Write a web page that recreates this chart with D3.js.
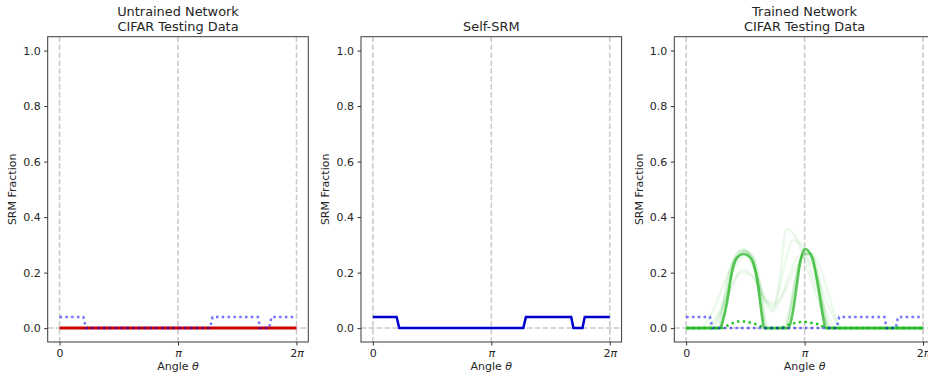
<!DOCTYPE html>
<html>
<head>
<meta charset="utf-8">
<script src="https://cdn.jsdelivr.net/npm/d3@7"></script>
<style>
  body { margin: 0; background: #fff; }
  svg { font-family: "DejaVu Sans", sans-serif; }
</style>
</head>
<body>
<div id="graph"></div>
<script>
const width = 928, height = 379;
const TAU = 2 * Math.PI;

// x ticks
const thetaTicks = [0, Math.PI, TAU];
const thetaLabels = ["0", "π", "2π"];
const srmTicks = [0, 0.2, 0.4, 0.6, 0.8, 1.0];

// self-SRM curve (angle in rad)
const selfTheta = [0, 0.63, 0.70, 3.99, 4.06, 5.26, 5.32, 5.56, 5.62, 6.283];
const selfSRM = [0.04, 0.04, 0, 0, 0.04, 0.04, 0, 0, 0.04, 0.04];

// untrained network
const untrainedTheta = [0, 6.283];
const untrainedSRM = [0, 0];

// trained network, highlighted run
const trainedMainTheta = [0, 0.90, 0.98, 1.08, 1.21, 1.34, 1.52, 1.66, 1.78, 1.91, 2.00, 2.07, 2.72, 2.82, 2.93, 3.02, 3.15, 3.33, 3.50, 3.63, 3.70, 6.283];
const trainedMainSRM = [0, 0, 0.03, 0.09, 0.20, 0.252, 0.267, 0.26, 0.235, 0.15, 0.055, 0, 0, 0.05, 0.15, 0.234, 0.285, 0.258, 0.15, 0.042, 0, 0];

// trained network, other runs (faint)
const trainedRunTheta = [
  [0, 0.86, 0.95, 1.10, 1.25, 1.50, 1.75, 1.90, 2.00, 2.10, 2.65, 2.80, 2.95, 3.15, 3.35, 3.50, 3.65, 3.75, 6.283],
  [0, 0.92, 1.00, 1.15, 1.30, 1.55, 1.80, 1.95, 2.05, 2.15, 2.60, 2.75, 2.90, 3.10, 3.30, 3.50, 3.65, 3.80, 6.283],
  [0, 0.35, 0.70, 1.00, 1.30, 1.55, 1.80, 2.05, 2.30, 2.45, 2.66, 2.90, 3.15, 3.45, 3.70, 3.90, 6.283],
  [0, 0.55, 0.90, 1.20, 1.50, 1.80, 2.10, 2.35, 2.60, 2.84, 3.10, 3.40, 3.70, 4.00, 6.283],
  [0, 0.70, 1.00, 1.30, 1.55, 1.85, 2.10, 2.30, 2.60, 2.90, 3.30, 3.60, 3.85, 4.07, 6.283],
  [0, 0.45, 0.80, 1.15, 1.45, 1.75, 2.00, 2.25, 2.50, 2.75, 3.00, 3.30, 3.60, 3.90, 4.25, 6.283]
];
const trainedRunSRM = [
  [0, 0, 0.06, 0.17, 0.245, 0.282, 0.255, 0.17, 0.08, 0, 0, 0.08, 0.20, 0.272, 0.25, 0.16, 0.05, 0, 0],
  [0, 0, 0.05, 0.16, 0.24, 0.276, 0.25, 0.16, 0.07, 0, 0, 0.07, 0.18, 0.262, 0.27, 0.19, 0.08, 0, 0],
  [0, 0, 0.06, 0.16, 0.25, 0.28, 0.22, 0.12, 0.07, 0.15, 0.356, 0.33, 0.24, 0.12, 0.03, 0, 0],
  [0, 0, 0.05, 0.15, 0.21, 0.18, 0.10, 0.09, 0.22, 0.318, 0.29, 0.17, 0.06, 0, 0],
  [0, 0, 0.10, 0.22, 0.26, 0.20, 0.10, 0.08, 0.13, 0.22, 0.27, 0.20, 0.09, 0, 0],
  [0, 0, 0.04, 0.13, 0.20, 0.19, 0.12, 0.06, 0.10, 0.20, 0.26, 0.24, 0.14, 0.04, 0, 0]
];
const trainedRunAlpha = [0.16, 0.16, 0.09, 0.08, 0.08, 0.07];

// trained network, mean (dotted)
const meanTheta = [0, 0.95, 1.08, 1.24, 1.38, 1.53, 1.69, 1.85, 2.00, 2.12, 2.50, 2.62, 2.75, 2.88, 3.03, 3.19, 3.35, 3.50, 3.63, 3.75, 6.283];
const meanSRM = [0, 0, 0.008, 0.018, 0.024, 0.024, 0.02, 0.014, 0.006, 0, 0, 0.006, 0.014, 0.018, 0.022, 0.022, 0.018, 0.014, 0.006, 0, 0];

const panelLeft = [47.7, 361, 674.3];
const panelW = 260.6, panelTop = 36.7, panelH = 305.3;
const fontSize = "11px";

const svg = d3.select("#graph").append("svg")
  .attr("width", width)
  .attr("height", height);

const toPts = (xs, ys) => xs.map((t, i) => [t, ys[i]]);

function drawPanel(idx, title) {
  const x0 = panelLeft[idx];
  const g = svg.append("g").attr("transform", "translate(" + x0 + "," + panelTop + ")");

  const xScale = d3.scaleLinear().domain([-0.1 * Math.PI, 2.1 * Math.PI]).range([0, panelW]);
  const yScale = d3.scaleLinear().domain([-0.05, 1.05]).range([panelH, 0]);

  g.append("clipPath").attr("id", "clip" + idx)
    .append("rect").attr("width", panelW).attr("height", panelH);

  // dashed reference lines
  g.selectAll(".vgrid").data(thetaTicks).enter().append("line")
    .attr("x1", d => xScale(d)).attr("x2", d => xScale(d))
    .attr("y1", 0).attr("y2", panelH)
    .attr("stroke", "#c8c8c8").attr("stroke-width", 1.5)
    .attr("stroke-dasharray", "5.5,2.4");
  g.append("line")
    .attr("x1", 0).attr("x2", panelW)
    .attr("y1", yScale(0)).attr("y2", yScale(0))
    .attr("stroke", "#c8c8c8").attr("stroke-width", 1.5)
    .attr("stroke-dasharray", "5.5,2.4");

  const line = d3.line()
    .x(d => xScale(d[0]))
    .y(d => yScale(d[1]))
    .curve(d3.curveMonotoneX);
  const stepLine = d3.line()
    .x(d => xScale(d[0]))
    .y(d => yScale(d[1]));

  const plot = g.append("g").attr("clip-path", "url(#clip" + idx + ")");

  // axes
  const xAxis = d3.axisBottom(xScale)
    .tickValues(thetaTicks)
    .tickSize(3.5).tickPadding(3.5)
    .tickFormat((d, i) => thetaLabels[i]);
  const yAxis = d3.axisLeft(yScale)
    .tickValues(srmTicks)
    .tickSize(3.5).tickPadding(3.5)
    .tickFormat(d3.format(".1f"));

  const gx = g.append("g").attr("transform", "translate(0," + panelH + ")").call(xAxis);
  const gy = g.append("g").call(yAxis);
  [gx, gy].forEach(a => {
    a.select(".domain").remove();
    a.selectAll("line").attr("stroke", "#333");
    a.selectAll("text").attr("fill", "#262626").style("font-size", fontSize)
      .style("font-family", "'DejaVu Sans', sans-serif");
  });
  // italic pi
  gx.selectAll("text").each(function (d, i) {
    const lab = thetaLabels[i];
    const t = d3.select(this).text(null);
    if (lab.indexOf("π") >= 0) {
      const pre = lab.replace("π", "");
      if (pre) t.append("tspan").text(pre);
      t.append("tspan").style("font-style", "italic").text("π");
    } else {
      t.text(lab);
    }
  });

  // frame
  g.append("rect")
    .attr("width", panelW).attr("height", panelH)
    .attr("fill", "none").attr("stroke", "#3a3a3a").attr("stroke-width", 1);

  // titles
  const titleG = g.append("text")
    .attr("x", panelW / 2)
    .attr("text-anchor", "middle")
    .style("font-size", "12.9px")
    .attr("fill", "#262626");
  title.forEach((tl, i) => {
    titleG.append("tspan")
      .attr("x", panelW / 2)
      .attr("y", (title.length === 1 ? 31 : 16 + i * 15) - panelTop)
      .text(tl);
  });

  g.append("text")
    .attr("transform", "translate(-35.5," + panelH / 2 + ") rotate(-90)")
    .attr("text-anchor", "middle")
    .attr("dy", "0.35em")
    .style("font-size", fontSize)
    .attr("fill", "#262626")
    .text("SRM Fraction");

  const xl = g.append("text")
    .attr("x", panelW / 2)
    .attr("y", 370 - panelTop)
    .attr("text-anchor", "middle")
    .style("font-size", fontSize)
    .attr("fill", "#262626");
  xl.append("tspan").text("Angle ");
  xl.append("tspan").style("font-style", "italic").text("θ");

  return { plot, line, stepLine };
}

// panel 1
const p1 = drawPanel(0, ["Untrained Network", "CIFAR Testing Data"]);
p1.plot.append("path")
  .attr("d", p1.stepLine(toPts(untrainedTheta, untrainedSRM)))
  .attr("fill", "none").attr("stroke", "#cc0000").attr("stroke-width", 3);
p1.plot.append("path")
  .attr("d", p1.stepLine(toPts(selfTheta, selfSRM)))
  .attr("fill", "none").attr("stroke", "#0000ff").attr("stroke-opacity", 0.55)
  .attr("stroke-width", 2.5).attr("stroke-dasharray", "2.5,3.3");

// panel 2
const p2 = drawPanel(1, ["Self-SRM"]);
p2.plot.append("path")
  .attr("d", p2.stepLine(toPts(selfTheta, selfSRM)))
  .attr("fill", "none").attr("stroke", "#0000d0").attr("stroke-width", 2.5);

// panel 3
const p3 = drawPanel(2, ["Trained Network", "CIFAR Testing Data"]);
trainedRunTheta.forEach((th, i) => {
  p3.plot.append("path")
    .attr("d", p3.line(toPts(th, trainedRunSRM[i])))
    .attr("fill", "none").attr("stroke", "#1db31d")
    .attr("stroke-opacity", trainedRunAlpha[i]).attr("stroke-width", 2.5);
});
p3.plot.append("path")
  .attr("d", p3.line(toPts(trainedMainTheta, trainedMainSRM)))
  .attr("fill", "none").attr("stroke", "#1db31d")
  .attr("stroke-opacity", 0.72).attr("stroke-width", 2.6);
p3.plot.append("path")
  .attr("d", p3.line(toPts(meanTheta, meanSRM)))
  .attr("fill", "none").attr("stroke", "#10c010").attr("stroke-opacity", 0.9)
  .attr("stroke-width", 2.5).attr("stroke-dasharray", "2.5,3.3");
p3.plot.append("path")
  .attr("d", p3.stepLine(toPts(selfTheta, selfSRM)))
  .attr("fill", "none").attr("stroke", "#0000ff").attr("stroke-opacity", 0.55)
  .attr("stroke-width", 2.5).attr("stroke-dasharray", "2.5,3.3");
</script>
</body>
</html>
